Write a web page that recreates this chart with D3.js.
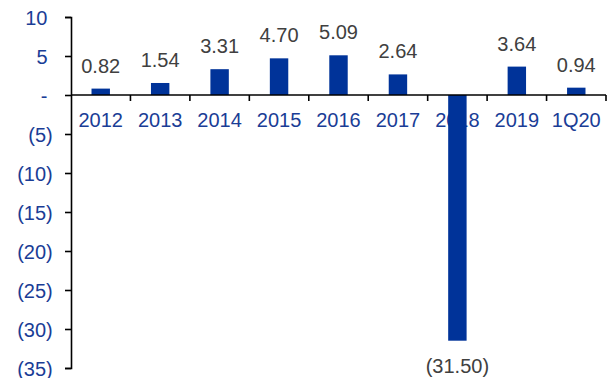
<!DOCTYPE html>
<html>
<head>
<meta charset="utf-8">
<script src="https://cdn.jsdelivr.net/npm/d3@7"></script>
<style>
  html, body { margin: 0; padding: 0; background: #fff; }
  svg { display: block; }
  text { font-family: Arial, "Liberation Sans", sans-serif; }
</style>
</head>
<body>
<svg id="chart" width="611" height="378"></svg>
<script>
// Annual values by period
const categories = ["2012", "2013", "2014", "2015", "2016", "2017", "2018", "2019", "1Q20"];
const values = [0.82, 1.54, 3.31, 4.70, 5.09, 2.64, -31.50, 3.64, 0.94];
const yTicks = [10, 5, 0, -5, -10, -15, -20, -25, -30, -35];

const W = 611, H = 378;
const margin = { left: 71, right: 5, top: 17, bottom: 10 };

const svg = d3.select("#chart");

const x = d3.scaleBand()
  .domain(categories)
  .range([margin.left, W - margin.right])
  .paddingInner(0.69)
  .paddingOuter(0.345);

const xEdge = d3.scaleLinear()
  .domain([0, categories.length])
  .range([margin.left, W - margin.right]);

const y = d3.scaleLinear()
  .domain([-35, 10])
  .range([368, margin.top]);

const fmt = v => v === 0 ? "-" : v < 0 ? "(" + d3.format(".2f")(-v) + ")" : d3.format(".2f")(v);
const tickFmt = v => v === 0 ? "-" : v < 0 ? "(" + (-v) + ")" : String(v);

const blue = "#003399";
const labelBlue = "#1a3d96";
const gray = "#404040";
const fs = 20;

// Y axis
const yAxis = d3.axisLeft(y)
  .tickValues(yTicks)
  .tickSize(6)
  .tickFormat(tickFmt);

const gy = svg.append("g")
  .attr("transform", `translate(${margin.left},0)`)
  .call(yAxis);
gy.select(".domain").attr("stroke", "#000").attr("stroke-width", 1.6);
gy.selectAll(".tick line").attr("stroke", "#000").attr("stroke-width", 1.6);
gy.selectAll(".tick text")
  .attr("fill", labelBlue)
  .attr("font-size", fs)
  .attr("x", d => d < 0 ? -18.3 : -23.5)
  .attr("dy", "0.35em");

// Category labels below the zero line (drawn under the bars)
svg.append("g")
  .selectAll("text")
  .data(categories)
  .join("text")
  .attr("x", d => x(d) + x.bandwidth() / 2)
  .attr("y", 127)
  .attr("text-anchor", "middle")
  .attr("font-size", fs)
  .attr("fill", labelBlue)
  .text(d => d);

// Bars
svg.append("g")
  .selectAll("rect")
  .data(values)
  .join("rect")
  .attr("x", (d, i) => x(categories[i]))
  .attr("width", x.bandwidth())
  .attr("y", d => y(Math.max(0, d)))
  .attr("height", d => Math.abs(y(d) - y(0)))
  .attr("fill", blue);

// Zero line with category boundary ticks
const gx = svg.append("g");
gx.append("line")
  .attr("x1", margin.left).attr("x2", W - margin.right)
  .attr("y1", y(0)).attr("y2", y(0))
  .attr("stroke", "#000").attr("stroke-width", 1.6);
gx.selectAll("line.tk")
  .data(d3.range(1, categories.length + 1))
  .join("line")
  .attr("class", "tk")
  .attr("x1", d => xEdge(d)).attr("x2", d => xEdge(d))
  .attr("y1", y(0)).attr("y2", y(0) + 6)
  .attr("stroke", "#000").attr("stroke-width", 1.6);

// Value labels
svg.append("g")
  .selectAll("text")
  .data(values)
  .join("text")
  .attr("x", (d, i) => x(categories[i]) + x.bandwidth() / 2)
  .attr("y", d => d >= 0 ? y(d) - 16 : y(d) + 32)
  .attr("text-anchor", "middle")
  .attr("font-size", fs)
  .attr("fill", gray)
  .text(fmt);
</script>
</body>
</html>
